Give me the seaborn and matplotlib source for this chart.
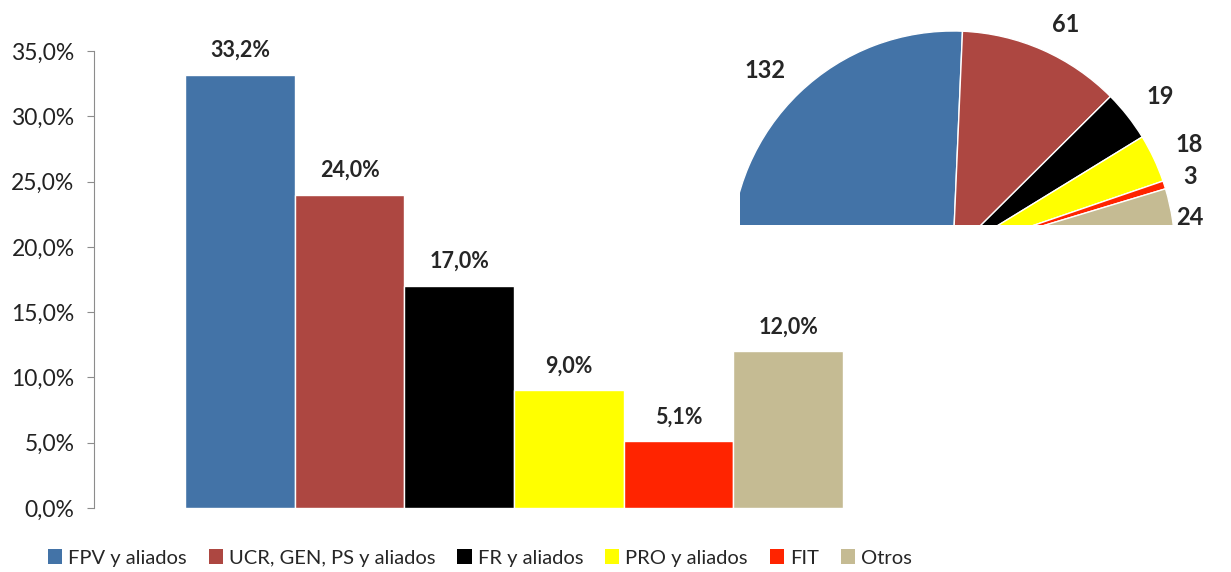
import matplotlib
matplotlib.use('Agg')
import matplotlib.pyplot as plt
import seaborn as sns
from matplotlib.patches import Patch
from matplotlib.ticker import FuncFormatter
import numpy as np

# Datos
partidos = ['FPV y aliados', 'UCR, GEN, PS y aliados', 'FR y aliados',
            'PRO y aliados', 'FIT', 'Otros']
porcentajes = [33.2, 24.0, 17.0, 9.0, 5.1, 12.0]
bancas = [132, 61, 19, 18, 3, 24]
colores = ['#4373A7', '#AD4741', '#000000', '#FFFF00', '#FF2400', '#C5BB93']

sns.set_style('white')
plt.rcParams['font.family'] = ['Lato', 'DejaVu Sans']

fig = plt.figure(figsize=(12.31, 5.72), dpi=100)

# Grafico de barras
ax = fig.add_axes([94 / 1231, 64 / 572, 840 / 1231, 457 / 572])
sns.barplot(x=partidos, y=porcentajes, hue=partidos, palette=colores,
            width=1, legend=False, saturation=1, ax=ax)
ax.set_xlim(-1.33, 6.33)
ax.set_ylim(0, 35)
ax.set_yticks(np.arange(0, 35.1, 5))
ax.yaxis.set_major_formatter(FuncFormatter(lambda v, p: f'{v:.1f}%'.replace('.', ',')))
ax.set_xticks([])
for s in ['top', 'right', 'bottom']:
    ax.spines[s].set_visible(False)
ax.spines['left'].set_color('#8c8c8c')
ax.tick_params(axis='y', length=5, color='#8c8c8c', labelsize=16.5,
               labelcolor='#222222', left=True, direction='out', pad=9)

for cont in ax.containers:
    ax.bar_label(cont, labels=[f'{v:.1f}%'.replace('.', ',') for v in cont.datavalues],
                 padding=10, fontsize=15.5, fontweight='bold')

# Leyenda
handles = [Patch(facecolor=c, edgecolor='none', label=p) for p, c in zip(partidos, colores)]
fig.legend(handles=handles, loc='center', bbox_to_anchor=(480 / 1231, 14 / 572),
           ncol=6, frameon=False, handlelength=0.7, handleheight=0.7,
           handletextpad=0.3, columnspacing=1.1, fontsize=14.5)

# Semicirculo de bancas
axp = fig.add_axes([740 / 1231, 347 / 572, 491 / 1231, 225 / 572])
wedges, _ = axp.pie(bancas + [sum(bancas)], colors=colores + ['none'],
                    startangle=180, counterclock=False,
                    wedgeprops={'edgecolor': 'white', 'linewidth': 1})
wedges[-1].set_visible(False)
for w in wedges:
    w.set_clip_on(True)
    w.set_clip_path(axp.patch)
axp.set_aspect('auto')
axp.set_xlim(-213 / 222, 278 / 222)
axp.set_ylim(28 / 222, 253 / 222)

# distancia y giro de cada etiqueta respecto al centro de su sector
dist = [1.18, 1.15, 1.17, 1.17, 1.12, 1.08]
giro = [2, -2.5, -1, -0.5, 0, 0]
for w, n, d, g in zip(wedges[:-1], bancas, dist, giro):
    ang = np.deg2rad((w.theta1 + w.theta2) / 2 + g)
    axp.text(d * np.cos(ang), d * np.sin(ang), str(n), ha='center', va='center',
             fontsize=17, fontweight='bold')

plt.savefig('out.png', dpi=100)
